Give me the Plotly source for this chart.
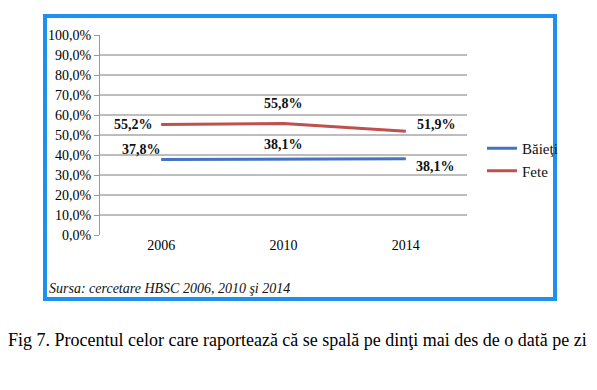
import plotly.graph_objects as go

years = ["2006", "2010", "2014"]
baieti = [37.8, 38.1, 38.1]
fete = [55.2, 55.8, 51.9]
baieti_labels = ["37,8%", "38,1%", "38,1%"]
fete_labels = ["55,2%", "55,8%", "51,9%"]
y_ticks = [0, 10, 20, 30, 40, 50, 60, 70, 80, 90, 100]
y_tick_labels = ["0,0%", "10,0%", "20,0%", "30,0%", "40,0%", "50,0%", "60,0%", "70,0%", "80,0%", "90,0%", "100,0%"]

W, H = 597, 390
SERIF = "Liberation Serif"
BLUE = "#4472C4"
RED = "#C0504D"

fig = go.Figure()
fig.add_trace(go.Scatter(x=years, y=baieti, mode="lines", name="Băieţi",
                         line=dict(color=BLUE, width=3)))
fig.add_trace(go.Scatter(x=years, y=fete, mode="lines", name="Fete",
                         line=dict(color=RED, width=3)))

# data label offsets in px (dx, dy downward)
b_pos = [(-20, -10), (0, -14), (30, 8)]
f_pos = [(-28, 0), (0, -20), (31, -7)]
annotations = []
for i in range(3):
    annotations.append(dict(x=i, y=baieti[i], xref="x", yref="y",
                            text="<b>%s</b>" % baieti_labels[i],
                            showarrow=False, xshift=b_pos[i][0], yshift=-b_pos[i][1],
                            font=dict(family=SERIF, size=14, color="#111")))
    annotations.append(dict(x=i, y=fete[i], xref="x", yref="y",
                            text="<b>%s</b>" % fete_labels[i],
                            showarrow=False, xshift=f_pos[i][0], yshift=-f_pos[i][1],
                            font=dict(family=SERIF, size=14, color="#111")))
annotations.append(dict(xref="paper", yref="paper", x=47 / W, y=(H - 288) / H,
                        xanchor="left", yanchor="middle", showarrow=False,
                        text="<i>Sursa: cercetare HBSC 2006, 2010 şi 2014</i>",
                        font=dict(family=SERIF, size=14, color="#111")))
annotations.append(dict(xref="paper", yref="paper", x=297 / W, y=(H - 340) / H,
                        xanchor="center", yanchor="middle", showarrow=False,
                        text="Fig 7. Procentul celor care raportează că se spală pe dinţi mai des de o dată pe zi",
                        font=dict(family=SERIF, size=18, color="#000")))

fig.update_layout(
    width=W, height=H,
    margin=dict(l=0, r=0, t=0, b=0),
    paper_bgcolor="white", plot_bgcolor="white",
    showlegend=True,
    legend=dict(x=482 / W, y=(H - 132) / H, xanchor="left", yanchor="top",
                font=dict(family=SERIF, size=15, color="#111"),
                bgcolor="rgba(0,0,0,0)", itemwidth=30),
    xaxis=dict(domain=[100 / W, 467 / W], type="category",
               showgrid=False, showline=False, ticks="",
               tickfont=dict(family=SERIF, size=14, color="#000"),
               range=[-0.5, 2.5], automargin=False),
    yaxis=dict(domain=[(H - 235) / H, (H - 35) / H], range=[0, 100],
               tickvals=y_ticks, ticktext=y_tick_labels,
               showgrid=True, gridcolor="#BDBDBD", gridwidth=1.5,
               showline=True, linecolor="#999", linewidth=1,
               ticks="outside", ticklen=5, tickcolor="#999",
               tickfont=dict(family=SERIF, size=14, color="#000"),
               zeroline=False, automargin=False),
    shapes=[
        dict(type="rect", xref="paper", yref="paper",
             x0=45 / W, x1=555 / W, y0=(H - 299) / H, y1=(H - 16) / H,
             line=dict(color="#1E90EE", width=4), fillcolor="rgba(0,0,0,0)"),
    ],
    annotations=annotations,
)

fig.write_html("out.html", config={"displayModeBar": False},
               post_script="document.body.style.margin='0';document.body.style.overflow='hidden';")
